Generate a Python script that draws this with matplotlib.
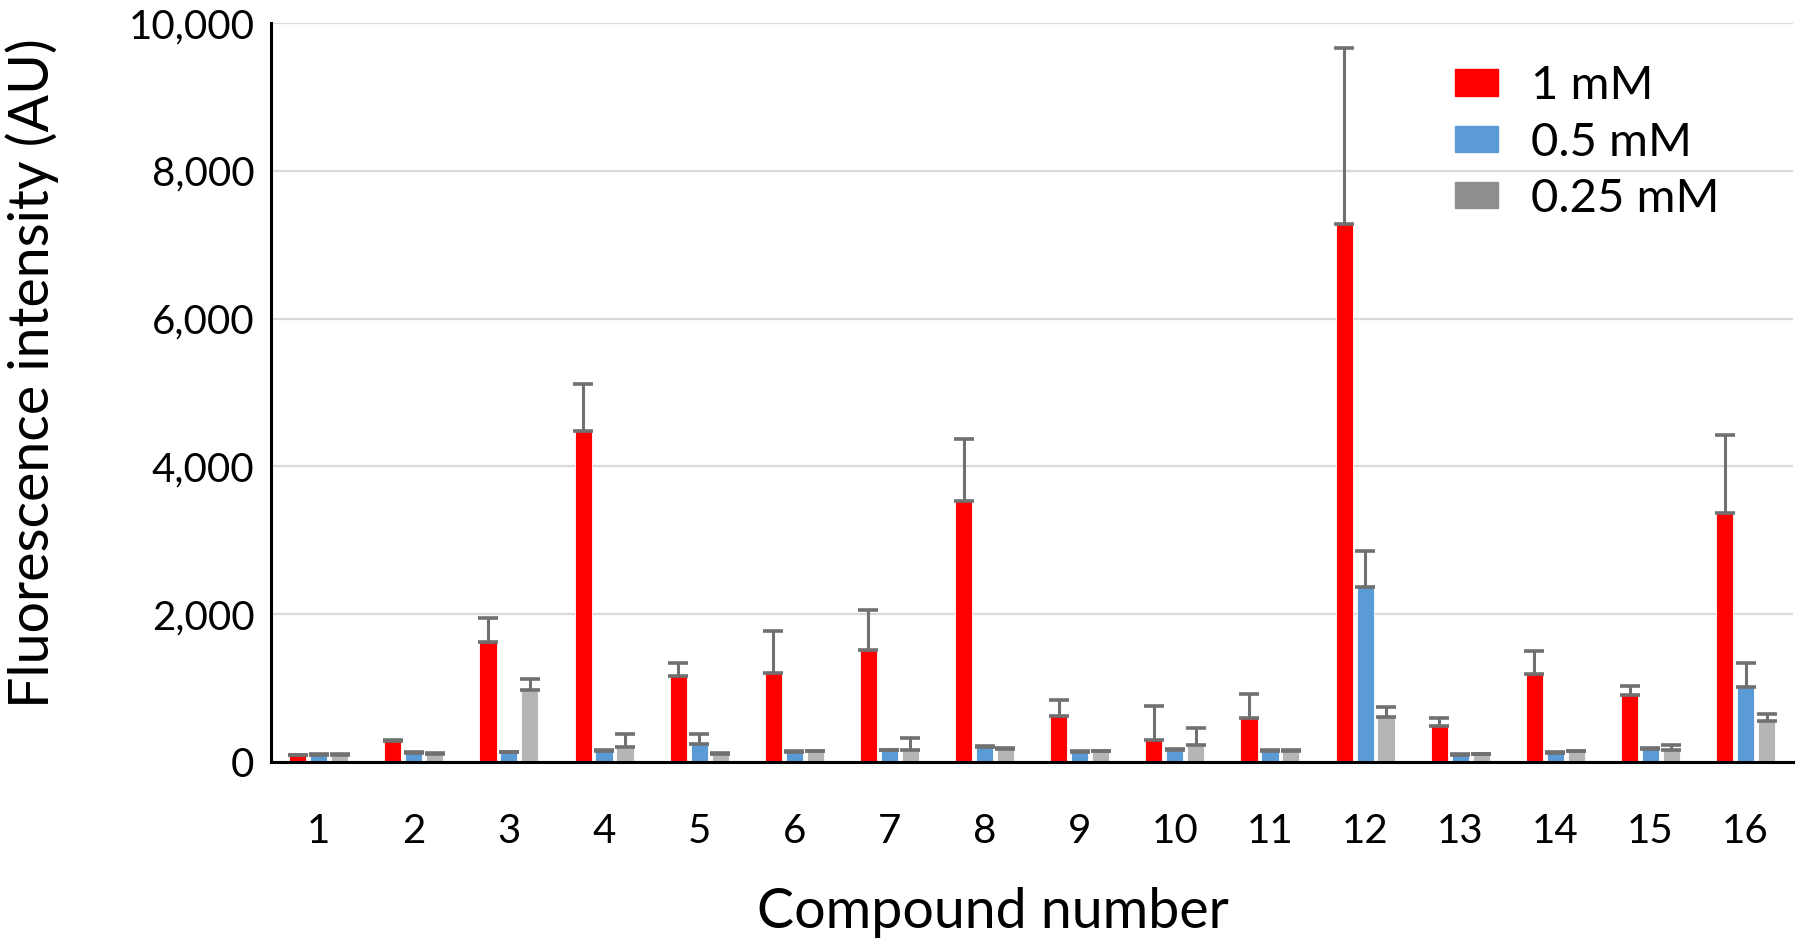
import matplotlib.pyplot as plt
import matplotlib.patches as mpatches
import numpy as np

compounds = [str(i) for i in range(1, 17)]

conc_1mM = [90, 290, 1620, 4480, 1170, 1210, 1515, 3530, 625, 300, 600, 7280, 490, 1185, 910, 3370]
err_1mM = [10, 15, 325, 640, 165, 570, 540, 840, 210, 455, 320, 2380, 110, 318, 123, 1060]

conc_05mM = [100, 120, 130, 150, 250, 140, 160, 205, 140, 170, 150, 2370, 100, 125, 175, 1020]
err_05mM = [10, 10, 10, 10, 125, 10, 10, 10, 10, 10, 10, 480, 10, 10, 10, 314]

conc_025mM = [100, 110, 980, 205, 115, 145, 160, 175, 145, 230, 155, 610, 105, 145, 170, 550]
err_025mM = [10, 10, 150, 170, 10, 10, 160, 10, 10, 236, 10, 136, 10, 10, 59, 105]

series = [
    ('1 mM', conc_1mM, err_1mM, '#FF0000', '#FF0000'),
    ('0.5 mM', conc_05mM, err_05mM, '#5B9BD5', '#5B9BD5'),
    ('0.25 mM', conc_025mM, err_025mM, '#B5B5B5', '#8E8E8E'),
]

plt.rcParams['font.family'] = ['Lato', 'DejaVu Sans']

fig = plt.figure(figsize=(18, 9.42), dpi=100)
ax = fig.add_axes([0.1506, 0.191, 0.8456, 0.7846])

x = np.arange(1, 17)
width = 0.18
offsets = [-0.22, 0, 0.22]

handles = []
for (label, vals, errs, color, legend_color), off in zip(series, offsets):
    ax.bar(x + off, vals, width=width, color=color, edgecolor='white', linewidth=0.6, zorder=2)
    # plus-only error bars, cap drawn at bar top as well
    ax.errorbar(x + off, vals, yerr=[np.zeros(len(errs)), errs], fmt='none',
                ecolor='#707070', elinewidth=2.2, capsize=7, capthick=2.6, zorder=3)
    handles.append(mpatches.Patch(color=legend_color, label=label))

ax.set_xlim(0.5, 16.5)
ax.set_ylim(0, 10000)
ax.set_yticks(range(0, 10001, 2000))
ax.set_yticklabels([f'{v:,}' for v in range(0, 10001, 2000)])
ax.set_xticks(x)
ax.set_xticklabels(compounds)
ax.tick_params(axis='both', length=0, labelsize=29)
ax.tick_params(axis='x', pad=37)
ax.tick_params(axis='y', pad=12)

ax.grid(axis='y', color='#D9D9D9', linewidth=1.6, zorder=0)
ax.set_axisbelow(True)
for side in ['top', 'right']:
    ax.spines[side].set_visible(False)
for side in ['left', 'bottom']:
    ax.spines[side].set_linewidth(2.2)
    ax.spines[side].set_color('black')
    ax.spines[side].set_zorder(4)

ax.set_xlabel('Compound number', fontsize=40, va='center')
ax.xaxis.set_label_coords(0.474, -0.204)
ax.set_ylabel('Fluorescence intensity (AU)', fontsize=40, va='center')
ax.yaxis.set_label_coords(-0.157, 0.526)

ax.legend(handles=handles, loc='upper left', bbox_to_anchor=(0.75, 1.0), frameon=False,
          fontsize=34, handlelength=0.91, handleheight=0.49, labelspacing=0.3, handletextpad=0.7)

plt.savefig('out.png', dpi=100)
plt.close()
